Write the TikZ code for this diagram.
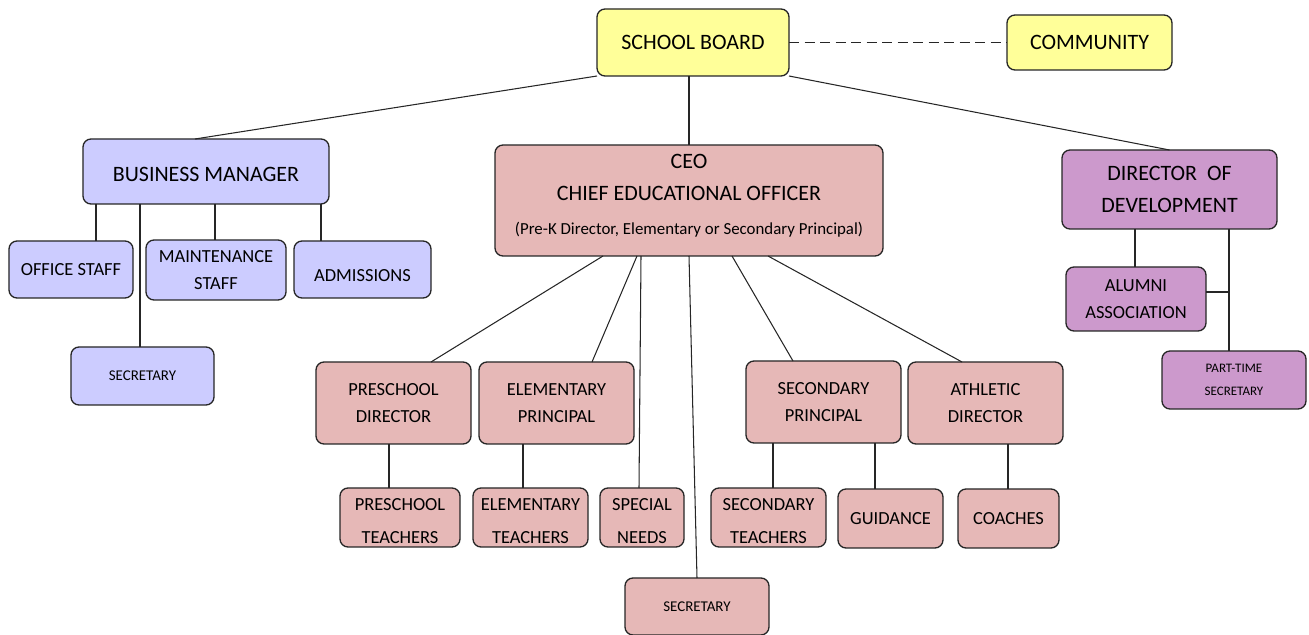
\documentclass[tikz,border=0pt]{standalone}
\usepackage{fontspec}
\setmainfont{Carlito}

\definecolor{boardyellow}{RGB}{255,255,153}
\definecolor{bizlavender}{RGB}{204,204,255}
\definecolor{eduRose}{RGB}{230,184,183}
\definecolor{devOrchid}{RGB}{204,153,204}

\begin{document}
\begin{tikzpicture}[
  x=0.2mm,
  y=-0.2mm,
  org box/.style={
    draw=black!85,
    line width=0.75pt,
    rounded corners=1.6mm,
    align=center,
    inner sep=0pt,
    outer sep=0pt
  },
  big text/.style={font=\fontsize{12.5}{18.7}\selectfont},
  mid text/.style={font=\fontsize{10.5}{15.3}\selectfont},
  low text/.style={font=\fontsize{10.5}{18.7}\selectfont},
  tiny text/.style={font=\fontsize{8.5}{10}\selectfont},
  board box/.style={org box,fill=boardyellow,big text},
  biz box/.style={org box,fill=bizlavender,mid text},
  edu box/.style={org box,fill=eduRose,mid text},
  dev box/.style={org box,fill=devOrchid,mid text},
  link/.style={draw=black!85,line width=0.6pt}
]
\useasboundingbox (0,0) rectangle (1309,635);

% top level
\node[board box,minimum width=38.4mm,minimum height=13.4mm] (board) at (693,42.5) {SCHOOL BOARD};
\node[board box,minimum width=33mm,minimum height=11mm] (community) at (1089.5,42.5) {COMMUNITY};

% second level
\node[biz box,big text,minimum width=49.2mm,minimum height=13mm] (bm) at (206,171.5) {\rule{0pt}{11.4pt}BUSINESS MANAGER};
\node[edu box,font=\fontsize{12.5}{18.1}\selectfont,minimum width=77.6mm,minimum height=22.2mm] (ceo) at (689,200.5) {
  CEO\\
  CHIEF EDUCATIONAL OFFICER\\[0.3mm]
  {\fontsize{9.6}{12}\selectfont(Pre-K Director, Elementary or Secondary Principal)\rule[-7pt]{0pt}{1pt}}
};
\node[dev box,big text,minimum width=43mm,minimum height=15.8mm] (dod) at (1169.5,189.5) {
  DIRECTOR~~OF\\
  DEVELOPMENT
};

% business office
\node[biz box,minimum width=24.8mm,minimum height=11.4mm] (office) at (71,269.5) {OFFICE STAFF};
\node[biz box,minimum width=28mm,minimum height=12mm] (maint) at (216,270) {MAINTENANCE\\STAFF};
\node[biz box,minimum width=27.4mm,minimum height=11.4mm] (adm) at (362.5,269.5) {\rule{0pt}{13.6pt}ADMISSIONS};
\node[biz box,tiny text,minimum width=28.6mm,minimum height=11.6mm] (bmsec) at (142.5,376) {SECRETARY};

% development office
\node[dev box,minimum width=28mm,minimum height=12.8mm] (alumni) at (1136,299) {ALUMNI\\ASSOCIATION};
\node[dev box,font=\fontsize{7.4}{13.5}\selectfont,minimum width=28.8mm,minimum height=11.6mm] (ptsec) at (1234,380) {PART-TIME\\SECRETARY};

% schools
\node[edu box,minimum width=31mm,minimum height=16.4mm] (pd) at (393.5,403) {PRESCHOOL\\DIRECTOR};
\node[edu box,minimum width=31mm,minimum height=16.4mm] (ep) at (556.5,403) {ELEMENTARY\\PRINCIPAL};
\node[edu box,minimum width=31mm,minimum height=16.4mm] (sp) at (823.5,402) {SECONDARY\\PRINCIPAL};
\node[edu box,minimum width=31mm,minimum height=16.4mm] (ad) at (985.5,403) {ATHLETIC\\DIRECTOR};

\node[edu box,low text,minimum width=24mm,minimum height=11.8mm] (pt) at (400,517.5) {\rule{0pt}{11.3pt}PRESCHOOL\\TEACHERS};
\node[edu box,low text,minimum width=23mm,minimum height=11.8mm] (et) at (530.5,517.5) {\rule{0pt}{11.3pt}ELEMENTARY\\TEACHERS};
\node[edu box,low text,minimum width=16.8mm,minimum height=11.8mm] (sn) at (642,517.5) {\rule{0pt}{11.3pt}SPECIAL\\NEEDS};
\node[edu box,low text,minimum width=23mm,minimum height=11.8mm] (st) at (768.5,517.5) {\rule{0pt}{11.3pt}SECONDARY\\TEACHERS};
\node[edu box,minimum width=21mm,minimum height=11.8mm] (guid) at (890.5,518.5) {GUIDANCE};
\node[edu box,minimum width=20.2mm,minimum height=11.8mm] (coach) at (1008.5,518.5) {COACHES};
\node[edu box,tiny text,minimum width=28.8mm,minimum height=11.4mm] (ceosec) at (697,606.5) {SECRETARY};

% board links
\draw[link,dash pattern=on 2mm off 1.1mm] (board.east) -- (community.west);
\draw[link] (board.south west) -- ([xshift=-2.2mm]bm.north);
\draw[link] (ceo.north |- board.south) -- (ceo.north);
\draw[link] (board.south east) -- (dod.north);

% business manager links
\draw[link] ([xshift=-22mm]bm.south) -- ([xshift=-22mm]bm.south |- office.north);
\draw[link] ([xshift=-13.2mm]bm.south) -- ([xshift=-13.2mm]bm.south |- bmsec.north);
\draw[link] ([xshift=1.8mm]bm.south) -- ([xshift=1.8mm]bm.south |- maint.north);
\draw[link] ([xshift=23mm]bm.south) -- ([xshift=23mm]bm.south |- adm.north);

% ceo links
\draw[link] ([xshift=-17.2mm]ceo.south) -- ([xshift=7.5mm]pd.north);
\draw[link] ([xshift=-10.4mm]ceo.south) -- ([xshift=7.1mm]ep.north);
\draw[link] ([xshift=-9.6mm]ceo.south) -- ([xshift=-0.6mm]sn.north);
\draw[link] (ceo.south) -- (ceosec.north);
\draw[link] ([xshift=8.6mm]ceo.south) -- ([xshift=-6.1mm]sp.north);
\draw[link] ([xshift=15.8mm]ceo.south) -- ([xshift=-4.7mm]ad.north);

% school links
\draw[link] ([xshift=-0.9mm]pd.south) -- ([xshift=-0.9mm]pd.south |- pt.north);
\draw[link] ([xshift=-6.7mm]ep.south) -- ([xshift=-6.7mm]ep.south |- et.north);
\draw[link] ([xshift=-10.1mm]sp.south) -- ([xshift=-10.1mm]sp.south |- st.north);
\draw[link] ([xshift=10.3mm]sp.south) -- ([xshift=10.3mm]sp.south |- guid.north);
\draw[link] ([xshift=4.5mm]ad.south) -- ([xshift=4.5mm]ad.south |- coach.north);

% development links
\coordinate (devdrop) at ([xshift=11.9mm]dod.south);
\draw[link] ([xshift=-6.9mm]dod.south) -- ([xshift=-6.9mm]dod.south |- alumni.north);
\draw[link] (devdrop) -- (devdrop |- ptsec.north);
\draw[link] ([yshift=1.4mm]alumni.east) -- ([yshift=1.4mm]alumni.east -| devdrop);
\end{tikzpicture}
\end{document}
